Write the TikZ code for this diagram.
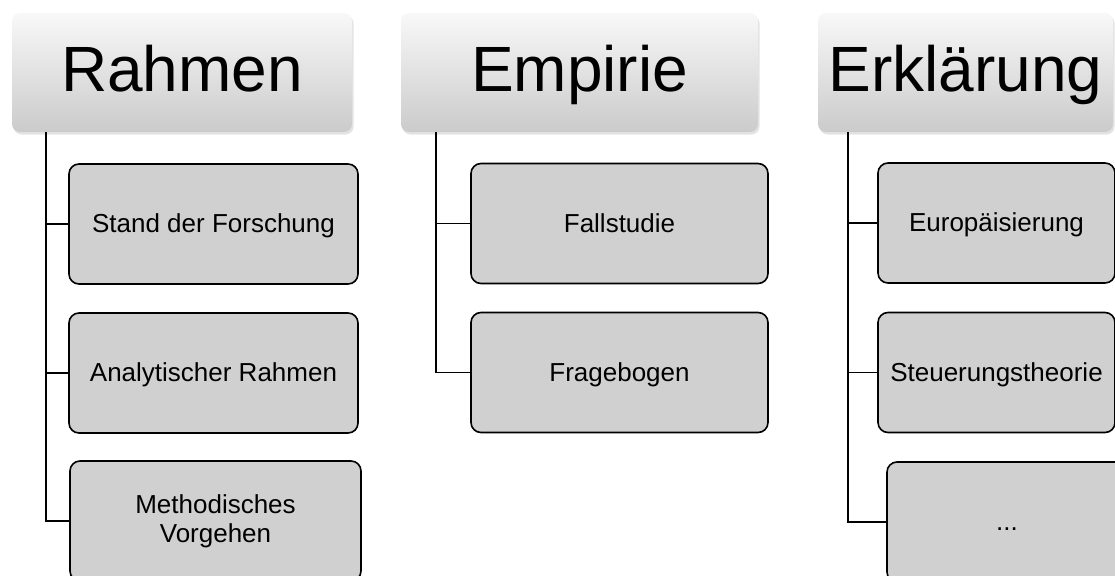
\documentclass[tikz,border=0pt]{standalone}
\usepackage{fontspec}
\setmainfont{Liberation Sans}
\usetikzlibrary{shadows}
\definecolor{boxgrey}{HTML}{D0D0D0}
\definecolor{headtop}{HTML}{F8F8F8}
\definecolor{headbot}{HTML}{CBCBCB}
\tikzset{
  head/.style={rounded corners=8pt, top color=headtop, bottom color=headbot,
    drop shadow={opacity=0.22, shadow xshift=1.5pt, shadow yshift=-2.5pt},
    minimum height=119, inner sep=0pt, text height=46pt, text depth=7pt,
    font=\fontsize{64}{64}\selectfont},
  item/.style={draw=black, line width=1.6pt, rounded corners=10pt, fill=boxgrey,
    minimum height=120, inner sep=0pt, align=center, text height=19pt,
    text depth=2pt, font=\fontsize{26}{29}\selectfont},
  link/.style={draw=black, line width=1.8pt}
}
\begin{document}
\begin{tikzpicture}[x=1pt,y=-1pt]
      \clip (0,0) rectangle (1115,575);
      % headers
      \node[head, minimum width=340] (hRahmen) at (182,72.5) {Rahmen};
      \node[head, minimum width=357] (hEmpirie) at (579.5,72.5) {Empirie};
      \node[head, minimum width=295] (hErkl) at (965.5,72.5) {Erklärung};
      % Rahmen
      \node[item, minimum width=289] (r1) at (213.5,224) {Stand der Forschung};
      \node[item, minimum width=289] (r2) at (213.5,373) {Analytischer Rahmen};
      \node[item, minimum width=291, text height=, text depth=] (r3) at (215.5,521) {Methodisches\\Vorgehen};
      % Empirie
      \node[item, minimum width=297] (e1) at (619.5,223.5) {Fallstudie};
      \node[item, minimum width=297] (e2) at (619.5,372.5) {Fragebogen};
      % Erklaerung
      \node[item, minimum width=237] (k1) at (996.5,223) {Europäisierung};
      \node[item, minimum width=237] (k2) at (996.5,372.5) {Steuerungstheorie};
      \node[item, minimum width=240] (k3) at (1007,522) {...};
      \coordinate (rTop) at ([xshift=34pt]hRahmen.south west);
      \coordinate (eTop) at ([xshift=35pt]hEmpirie.south west);
      \coordinate (kTop) at ([xshift=30pt]hErkl.south west);
      \begin{scope}[link]
        \draw (rTop) |- (r1.west);
        \draw (rTop) |- (r2.west);
        \draw (rTop) |- (r3.west);
        \draw (eTop) |- (e1.west);
        \draw (eTop) |- (e2.west);
        \draw (kTop) |- (k1.west);
        \draw (kTop) |- (k2.west);
        \draw (kTop) |- (k3.west);
      \end{scope}
    \end{tikzpicture}
\end{document}
